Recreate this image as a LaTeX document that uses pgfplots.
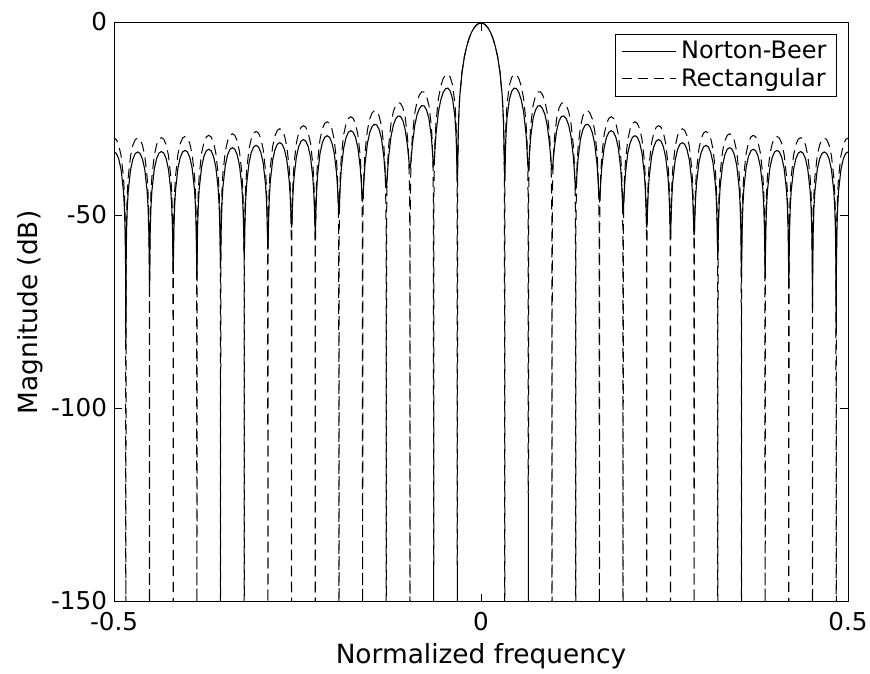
\documentclass[border=0pt]{standalone}
\usepackage{pgfplots}
\usepackage{pgfplotstable}
\pgfplotsset{compat=1.18}
\usepackage{fontspec}
\setmainfont{DejaVu Sans}

% b = frequency in bins of 1/31; rect = rectangular window (dB);
% nbp = Norton-Beer at +b, nbn = Norton-Beer at -b (dB)
\pgfplotstableread{
b rect nbp nbn
0 0 0 0
0.1 -0.14 -0.14 -0.14
0.2 -0.58 -0.58 -0.58
0.3 -1.33 -1.33 -1.33
0.4 -2.42 -2.42 -2.42
0.5 -3.92 -3.92 -3.92
0.6 -5.94 -5.94 -5.94
0.7 -8.69 -8.69 -8.69
0.8 -12.62 -12.62 -12.62
0.9 -19.23 -19.2 -19.2
0.95 -25.6 -25.5 -25.5
0.99 -39.9 -37.4 -37.6
1 -200 -41 -41.5
1.01 -40.07 -39.1 -39.45
1.03 -30.71 -33.5 -33.55
1.06 -24.98 -28.3 -28.3
1.1 -20.95 -24.45 -24.45
1.2 -16.12 -19.72 -19.72
1.3 -14.04 -17.64 -17.64
1.4 -13.27 -16.87 -16.87
1.5 -13.43 -17.03 -17.03
1.6 -14.42 -18.02 -18.02
1.7 -16.35 -19.95 -19.95
1.8 -19.62 -23.1 -23.1
1.9 -25.66 -28.7 -28.58
1.94 -30.19 -32.4 -32.11
1.97 -36.30 -35.8 -35.21
1.99 -45.92 -37.7 -36.76
2 -200 -38 -37
2.01 -46.00 -37.7 -36.76
2.03 -36.56 -35.95 -35.31
2.06 -30.70 -32.75 -32.45
2.1 -26.52 -29.47 -29.32
2.2 -21.34 -24.74 -24.74
2.3 -18.94 -22.54 -22.54
2.4 -17.90 -21.50 -21.50
2.5 -17.81 -21.41 -21.41
2.6 -18.58 -22.18 -22.18
2.7 -20.30 -23.73 -23.73
2.8 -23.39 -26.66 -26.63
2.9 -29.27 -31.71 -31.6
2.94 -33.73 -34.63 -34.45
2.97 -39.79 -36.9 -36.59
2.99 -49.38 -37.86 -37.47
3 -200 -38 -37.6
3.01 -49.57 -37.86 -37.48
3.03 -40.02 -36.94 -36.63
3.06 -34.09 -34.83 -34.63
3.1 -29.88 -32.16 -32.05
3.2 -24.52 -27.70 -27.66
3.3 -21.96 -25.31 -25.31
3.4 -20.80 -24.21 -24.21
3.5 -20.64 -24.1 -24.1
3.6 -21.28 -24.8 -24.8
3.7 -22.92 -26.42 -26.42
3.8 -25.96 -29.36 -29.36
3.9 -31.80 -34.70 -34.63
3.94 -36.19 -38.11 -37.94
3.97 -42.26 -41.19 -40.86
3.99 -51.91 -42.76 -42.29
4 -200 -43 -42.5
4.01 -51.92 -42.76 -42.29
4.03 -42.35 -41.22 -40.89
4.06 -36.41 -38.24 -38.08
4.1 -32.18 -35.02 -34.94
4.2 -26.76 -30.12 -30.12
4.3 -24.14 -27.62 -27.62
4.4 -22.92 -26.45 -26.45
4.5 -22.70 -26.25 -26.25
4.6 -23.28 -26.83 -26.83
4.7 -24.86 -28.38 -28.38
4.8 -27.84 -31.29 -31.29
4.9 -33.62 -36.67 -36.67
4.94 -37.99 -40.24 -40.24
4.97 -44.05 -43.74 -43.74
4.99 -53.68 -45.69 -45.69
5 -200 -46 -46
5.01 -54.4 -45.73 -45.73
5.03 -44.8 -44.04 -44.04
5.06 -38.8 -40.82 -40.82
5.1 -34.5 -37.45 -37.45
5.2 -28.9 -32.31 -32.31
5.3 -26.1 -29.6 -29.6
5.4 -24.7 -28.3 -28.3
5.5 -24.3 -27.9 -27.9
5.6 -24.7 -28.3 -28.3
5.7 -26.1 -29.7 -29.7
5.8 -28.9 -32.4 -32.4
5.9 -34.5 -37.75 -37.75
5.94 -38.8 -41.54 -41.54
5.97 -44.8 -45.67 -45.67
5.99 -54.4 -48.48 -48.48
6 -200 -49 -49
6.01 -55.7 -48.61 -48.61
6.03 -46.1 -46.31 -46.31
6.06 -40.1 -42.58 -42.58
6.1 -35.8 -38.95 -38.95
6.2 -30.2 -33.67 -33.67
6.3 -27.4 -31.0 -31.0
6.4 -26.0 -29.6 -29.6
6.5 -25.6 -29.2 -29.2
6.6 -26.0 -29.6 -29.6
6.7 -27.4 -31.0 -31.0
6.8 -30.2 -33.8 -33.8
6.9 -35.8 -39.21 -39.21
6.94 -40.1 -43.22 -43.22
6.97 -46.1 -48.04 -48.21
6.99 -55.7 -52.08 -52.56
7 -200 -53 -53.6
7.01 -56.7 -52.26 -52.76
7.03 -47.1 -48.7 -48.91
7.06 -41.1 -44.1 -44.17
7.1 -36.8 -40.17 -40.17
7.2 -31.2 -34.74 -34.74
7.3 -28.4 -32.0 -32.0
7.4 -27.0 -30.6 -30.6
7.5 -26.6 -30.2 -30.2
7.6 -27.0 -30.6 -30.6
7.7 -28.4 -32.0 -32.0
7.8 -31.2 -34.8 -34.8
7.9 -36.8 -40.23 -40.2
7.94 -41.1 -44.27 -44.1
7.97 -47.1 -49.18 -48.7
7.99 -56.7 -53.49 -52.26
8 -200 -54.5 -53
8.01 -57.5 -53.64 -52.37
8.03 -47.9 -49.74 -49.18
8.06 -41.9 -44.99 -44.8
8.1 -37.6 -41.0 -40.92
8.2 -32.0 -35.55 -35.55
8.3 -29.2 -32.8 -32.8
8.4 -27.8 -31.4 -31.4
8.5 -27.4 -31.0 -31.0
8.6 -27.8 -31.4 -31.4
8.7 -29.2 -32.8 -32.8
8.8 -32.0 -35.55 -35.55
8.9 -37.6 -41.02 -41.12
8.94 -41.9 -45.04 -45.3
8.97 -47.9 -49.9 -50.76
8.99 -57.5 -54.05 -56.8
9 -200 -55 -58.8
9.01 -58.2 -54.18 -57.04
9.03 -48.6 -50.37 -51.34
9.06 -42.6 -45.66 -45.97
9.1 -38.3 -41.69 -41.82
9.2 -32.7 -36.25 -36.25
9.3 -29.9 -33.5 -33.5
9.4 -28.5 -32.1 -32.1
9.5 -28.1 -31.7 -31.7
9.6 -28.5 -32.1 -32.1
9.7 -29.9 -33.5 -33.5
9.8 -32.7 -36.3 -36.3
9.9 -38.3 -41.84 -41.84
9.94 -42.6 -46.04 -46.04
9.97 -48.6 -51.61 -51.61
9.99 -58.2 -58.15 -58.15
10 -200 -60.6 -60.6
10.01 -58.8 -58.4 -58.4
10.03 -49.2 -52.13 -52.13
10.06 -43.2 -46.62 -46.62
10.1 -38.9 -42.43 -42.43
10.2 -33.3 -36.9 -36.9
10.3 -30.5 -34.1 -34.1
10.4 -29.1 -32.7 -32.7
10.5 -28.7 -32.3 -32.3
10.6 -29.1 -32.7 -32.7
10.7 -30.5 -34.1 -34.1
10.8 -33.3 -36.9 -36.9
10.9 -38.9 -42.5 -42.5
10.94 -43.2 -46.75 -46.75
10.97 -49.2 -52.59 -52.44
10.99 -58.8 -60.77 -59.9
11 -200 -65.8 -63.5
11.01 -59.2 -61.04 -60.11
11.03 -49.6 -52.97 -52.81
11.06 -43.6 -47.14 -47.14
11.1 -39.3 -42.9 -42.9
11.2 -33.7 -37.3 -37.3
11.3 -30.9 -34.5 -34.5
11.4 -29.5 -33.1 -33.1
11.5 -29.1 -32.7 -32.7
11.6 -29.5 -33.1 -33.1
11.7 -30.9 -34.5 -34.5
11.8 -33.7 -37.3 -37.3
11.9 -39.3 -42.9 -42.9
11.94 -43.6 -47.14 -47.14
11.97 -49.6 -52.98 -53.0
11.99 -59.2 -61.1 -61.28
12 -200 -66 -66.6
12.01 -59.5 -61.31 -61.5
12.03 -49.9 -53.26 -53.29
12.06 -43.9 -47.44 -47.44
12.1 -39.6 -43.2 -43.2
12.2 -34.0 -37.6 -37.6
12.3 -31.2 -34.8 -34.8
12.4 -29.8 -33.4 -33.4
12.5 -29.4 -33.0 -33.0
12.6 -29.8 -33.4 -33.4
12.7 -31.2 -34.8 -34.8
12.8 -34.0 -37.6 -37.6
12.9 -39.6 -43.2 -43.2
12.94 -43.9 -47.47 -47.44
12.97 -49.9 -53.38 -53.2
12.99 -59.5 -62.11 -60.94
13 -200 -69 -65
13.01 -59.8 -62.34 -61.12
13.03 -50.2 -53.67 -53.48
13.06 -44.2 -47.8 -47.8
13.1 -39.9 -43.5 -43.5
13.2 -34.3 -37.9 -37.9
13.3 -31.5 -35.1 -35.1
13.4 -30.1 -33.7 -33.7
13.5 -29.7 -33.3 -33.3
13.6 -30.1 -33.7 -33.7
13.7 -31.5 -35.1 -35.1
13.8 -34.3 -37.9 -37.9
13.9 -39.9 -43.5 -43.5
13.94 -44.2 -47.8 -47.8
13.97 -50.2 -53.75 -53.64
13.99 -59.8 -62.99 -62.1
14 -200 -73.5 -68
14.01 -59.9 -63.09 -62.18
14.03 -50.3 -53.85 -53.73
14.06 -44.3 -47.9 -47.9
14.1 -40.0 -43.6 -43.6
14.2 -34.4 -38.0 -38.0
14.3 -31.6 -35.2 -35.2
14.4 -30.2 -33.8 -33.8
14.5 -29.8 -33.4 -33.4
14.6 -30.2 -33.8 -33.8
14.7 -31.6 -35.2 -35.2
14.8 -34.4 -38.0 -38.0
14.9 -40.0 -43.6 -43.6
14.94 -44.3 -47.9 -47.9
14.97 -50.3 -53.9 -53.9
14.99 -59.9 -63.42 -63.46
15 -200 -81 -84
15.01 -59.9 -63.42 -63.46
15.03 -50.3 -53.9 -53.9
15.06 -44.3 -47.9 -47.9
15.1 -40.0 -43.6 -43.6
15.2 -34.4 -38.0 -38.0
15.3 -31.6 -35.2 -35.2
15.4 -30.2 -33.8 -33.8
15.5 -29.8 -33.4 -33.4
}\spectra

\begin{document}
\begin{tikzpicture}
\useasboundingbox (-57pt,-35.5pt) rectangle (378pt,301pt);
\begin{axis}[
  scale only axis,
  width=367pt, height=289.5pt,
  at={(0pt,0pt)}, anchor=south west,
  xmin=-0.5, xmax=0.5, ymin=-150, ymax=0,
  xtick={-0.5,0,0.5}, ytick={-150,-100,-50,0},
  minor tick num=0,
  tick align=inside, major tick length=4pt,
  xlabel={Normalized frequency},
  ylabel={Magnitude (dB)},
  /pgf/number format/assume math mode=true,
  tick label style={font=\fontsize{12.3}{14}\selectfont},
  xticklabel style={yshift=-1.8pt},
  yticklabel style={yshift=0.8pt},
  xlabel style={font=\fontsize{13.2}{15}\selectfont, yshift=1pt},
  ylabel style={font=\fontsize{13.2}{15}\selectfont, yshift=-3pt},
  axis line style={line width=0.5pt, black},
  every tick/.style={line width=0.5pt, black},
  clip=true,
  legend style={at={(1,1)}, anchor=north east, xshift=-5.5pt, yshift=-5.5pt,
    draw=black, line width=0.5pt, fill=white,
    font=\fontsize{12}{14}\selectfont,
    inner xsep=3pt, inner ysep=1.5pt, row sep=-1pt,
    cells={anchor=west}},
  legend image code/.code={\draw[#1] (0pt,0pt) -- (27pt,0pt);},
  legend cell align=left,
]
\addplot[black, line width=0.55pt, solid] table[x expr=\thisrow{b}/31, y=nbp] {\spectra};
\addlegendentry{Norton-Beer}
\addplot[black, line width=0.5pt, dash pattern=on 5pt off 3pt] table[x expr=\thisrow{b}/31, y=rect] {\spectra};
\addlegendentry{Rectangular}
\addplot[black, line width=0.55pt, solid, forget plot] table[x expr=-\thisrow{b}/31, y=nbn] {\spectra};
\addplot[black, line width=0.5pt, dash pattern=on 5pt off 3pt, forget plot] table[x expr=-\thisrow{b}/31, y=rect] {\spectra};
\end{axis}
\end{tikzpicture}
\end{document}
